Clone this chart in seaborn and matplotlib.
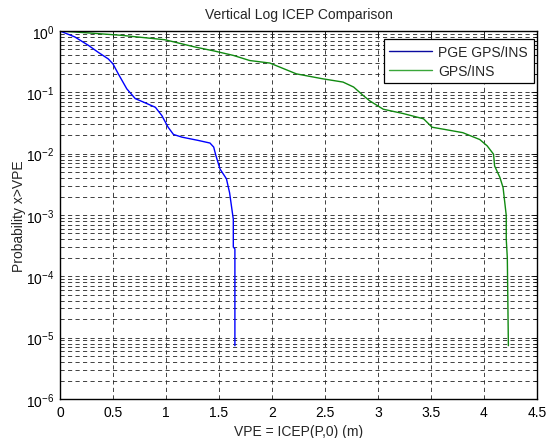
import matplotlib
matplotlib.use("Agg")
import matplotlib.pyplot as plt
import seaborn as sns
import numpy as np
import pandas as pd
from matplotlib.ticker import LogLocator, FixedLocator, NullFormatter, FixedFormatter
from matplotlib.lines import Line2D

# Data
pge_x = [0.0, 0.14, 0.27, 0.36, 0.456, 0.50, 0.55, 0.63, 0.71, 0.79, 0.90, 0.96, 1.02, 1.07, 1.15, 1.30,
         1.415, 1.45, 1.47, 1.51, 1.57, 1.60, 1.635, 1.635, 1.65, 1.65]
pge_y = [1.0, 0.80, 0.58, 0.45, 0.35, 0.29, 0.20, 0.114, 0.079, 0.069, 0.057, 0.042, 0.027, 0.0206, 0.0186, 0.0165,
         0.0149, 0.0128, 0.0094, 0.0056, 0.0039, 0.0023, 0.00085, 0.0003, 0.00028, 7.4e-6]

gps_x = [0.0, 0.27, 0.58, 0.99, 1.27, 1.46, 1.635, 1.79, 1.98, 2.23, 2.48, 2.67, 2.77, 2.86, 2.92, 3.05, 3.24,
         3.43, 3.51, 3.62, 3.80, 3.96, 4.03, 4.09, 4.10, 4.15, 4.18, 4.21, 4.21, 4.22, 4.23]
gps_y = [1.0, 0.93, 0.85, 0.72, 0.55, 0.47, 0.40, 0.33, 0.30, 0.20, 0.166, 0.147, 0.122, 0.089, 0.073, 0.053, 0.045,
         0.037, 0.027, 0.025, 0.022, 0.017, 0.0134, 0.0098, 0.0063, 0.0041, 0.0028, 0.00098, 0.0004, 0.0002, 7.4e-6]

series_names = ["PGE GPS/INS", "GPS/INS"]
x_ticks = [0, 0.5, 1, 1.5, 2, 2.5, 3, 3.5, 4, 4.5]
x_tick_labels = ["0", "0.5", "1", "1.5", "2", "2.5", "3", "3.5", "4", "4.5"]
y_ticks = [1e-6, 1e-5, 1e-4, 1e-3, 1e-2, 1e-1, 1e0]
y_tick_labels = [r"$10^{-6}$", r"$10^{-5}$", r"$10^{-4}$", r"$10^{-3}$", r"$10^{-2}$", r"$10^{-1}$", r"$10^{0}$"]

sns.set_style("white")
plt.rcParams['font.family'] = ['Liberation Sans', 'DejaVu Sans']
plt.rcParams['mathtext.fontset'] = 'custom'
plt.rcParams['mathtext.rm'] = 'Liberation Sans'
plt.rcParams['mathtext.it'] = 'Liberation Sans:italic'

fig = plt.figure(figsize=(5.48, 4.39), dpi=100)
ax = fig.add_axes([60/548, 39/439, 477/548, 368/439])

df1 = pd.DataFrame({"x": pge_x, "y": pge_y})
df2 = pd.DataFrame({"x": gps_x, "y": gps_y})
sns.lineplot(data=df1, x="x", y="y", sort=False, estimator=None, color="#0000ff", lw=1.0, ax=ax)
sns.lineplot(data=df2, x="x", y="y", sort=False, estimator=None, color="#108a10", lw=1.0, ax=ax)

ax.set_yscale("log")
ax.set_xlim(0, 4.5)
ax.set_ylim(1e-6, 1)
ax.xaxis.set_major_locator(FixedLocator(x_ticks))
ax.xaxis.set_major_formatter(FixedFormatter(x_tick_labels))
ax.yaxis.set_major_locator(FixedLocator(y_ticks))
ax.yaxis.set_major_formatter(FixedFormatter(y_tick_labels))
ax.yaxis.set_minor_locator(LogLocator(base=10, subs=np.arange(2, 10), numticks=20))
ax.yaxis.set_minor_formatter(NullFormatter())

gkw = dict(color="#222222", linestyle=(0, (5, 4)), linewidth=0.6)
ax.grid(True, which="major", axis="both", **gkw)
ax.grid(True, which="minor", axis="y", **gkw)

ax.tick_params(which="both", direction="in", top=True, right=True, labelsize=10, colors="black")
ax.tick_params(which="major", length=4, width=0.6, pad=4)
ax.tick_params(which="minor", length=2, width=0.5)
for s in ax.spines.values():
    s.set_color("black")
    s.set_linewidth(1.0)

ax.set_title("Vertical Log ICEP Comparison", fontsize=10, pad=9)
ax.set_xlabel("VPE = ICEP(P,0) (m)", fontsize=10, labelpad=4)
ax.set_ylabel("Probability x>VPE", fontsize=10, labelpad=0)

handles = [Line2D([], [], color="#0a0aa0", lw=1.0), Line2D([], [], color="#3aa63a", lw=1.0)]
leg = ax.legend(handles, series_names, loc="upper right", bbox_to_anchor=(0.993, 0.978),
                fontsize=10, frameon=True, fancybox=False, edgecolor="black", framealpha=1,
                borderaxespad=0, handlelength=3.1, handletextpad=0.45, borderpad=0.4,
                labelspacing=0.35)
leg.get_frame().set_linewidth(0.9)

fig.savefig("out.png", dpi=100)
